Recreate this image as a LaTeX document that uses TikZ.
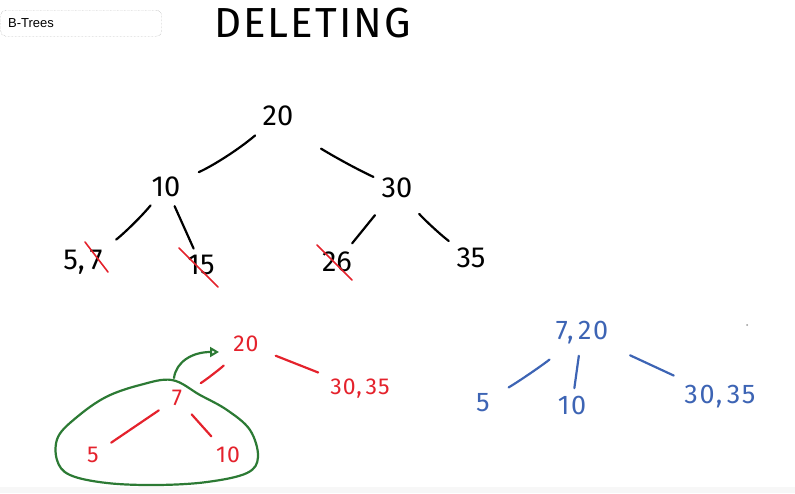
\documentclass[tikz,border=0pt]{standalone}
\usepackage{fontspec}
\setmainfont{Fira Sans}
\newfontfamily\uifont{Liberation Sans}
\usetikzlibrary{arrows.meta}
\definecolor{inkred}{HTML}{E4222C}
\definecolor{inkgreen}{HTML}{2C7A34}
\definecolor{inkblue}{HTML}{3D64B4}
\tikzset{
  hand/.style={line width=2.2pt, line cap=round, line join=round},
  numtop/.style={inner sep=0pt, font=\fontsize{29}{29}\selectfont},
  numred/.style={inner sep=0pt, text=inkred, font=\fontsize{23}{23}\selectfont\addfontfeatures{LetterSpace=4}},
  numblue/.style={inner sep=0pt, text=inkblue, font=\fontsize{27}{27}\selectfont\addfontfeatures{LetterSpace=6}},
  blackedge/.style={hand, black},
  rededge/.style={hand, inkred},
  blueedge/.style={hand, inkblue},
  strike/.style={line width=1.6pt, inkred, line cap=round},
}
\begin{document}
\begin{tikzpicture}[x=1pt,y=-1pt]
\useasboundingbox (0,0) rectangle (795,493);
\fill[black!3] (0,487) rectangle (795,493);
% tab label
\node[draw=black!40, densely dotted, rounded corners=5pt, minimum width=161pt, minimum height=26pt,
      anchor=north west, inner sep=0pt] (tab) at (0.5,10) {};
\node[anchor=west, inner sep=0pt, font=\uifont\fontsize{13}{13}\selectfont] (tabtext) at (8,23.5) {B-Trees};
% title
\node[inner sep=0pt, anchor=west, font=\fontsize{42}{42}\selectfont\addfontfeatures{LetterSpace=5}] (title) at (214,23) {DELETING};

% top tree
\node[numtop] (t20) at (278,116) {20};
\node[numtop] (t10) at (166,187) {10};
\node[numtop] (t30) at (397,188) {30};
\node[numtop] (t57) at (83,262) {5,\,7};
\node[numtop] (t15) at (201,265) {15};
\node[numtop] (t26) at (337,262) {26};
\node[numtop] (t35) at (471,258) {35};
\draw[blackedge, shorten <=30pt, shorten >=36pt] (t20.center) to[bend left=8] (t10.center);
\draw[blackedge, shorten <=54pt, shorten >=26pt] (t20.center) to[bend right=6] (t30.center);
\draw[blackedge, shorten <=24pt, shorten >=40pt] (t10.center) to[bend left=8] (t57.center);
\draw[blackedge, shorten <=21pt, shorten >=18pt] (t10.center) -- (t15.center);
\draw[blackedge, shorten <=35pt, shorten >=24pt] (t30.center) -- (t26.center);
\draw[blackedge, shorten <=34pt, shorten >=28pt] (t30.center) to[bend right=6] (t35.center);
% red strikes
\draw[strike] (85,242) -- (108,272);
\draw[strike] (179,248) -- (218,287);
\draw[strike] (317,245) -- (352,280);

% red tree
\node[numred] (r20) at (246,344) {20};
\node[numred] (r3035) at (360,389) {30,\,35};
\node[numred] (r7) at (177,398) {7};
\node[numred] (r5) at (93,455) {5};
\node[numred] (r10) at (228,455) {10};
\draw[rededge, shorten <=31pt, shorten >=28pt] (r20.center) to[bend left=6] (r7.center);
\draw[rededge, shorten <=32pt, shorten >=45pt] (r20.center) -- (r3035.center);
\draw[rededge, shorten <=22pt, shorten >=22pt] (r7.center) -- (r5.center);
\draw[rededge, shorten <=22pt, shorten >=25pt] (r7.center) -- (r10.center);

% green loop and arrow
\draw[hand, inkgreen] plot[smooth cycle, tension=0.6] coordinates {
  (172,380) (140,385) (106,397) (77,417) (58,437) (57,460) (70,475)
  (107,483) (157,485) (207,482) (247,473) (258,457) (250,430) (227,410) (200,395)};
\coordinate (looptop) at (174,378);
\coordinate (tipend) at (219,352);
\draw[hand, inkgreen, -{Triangle[open, length=9pt, width=10pt, line width=2pt]}]
  (looptop) .. controls (176,362) and (192,352) .. (tipend);

% blue tree
\node[numblue] (b720) at (582,333) {7,\,20};
\node[numblue] (b5) at (483,403) {5};
\node[numblue] (b10) at (572,405) {10};
\node[numblue] (b3035) at (720,397) {30,\,35};
\draw[blueedge, shorten <=42pt, shorten >=30pt] (b720.center) to[bend left=4] (b5.center);
\draw[blueedge, shorten <=23pt, shorten >=17pt] (b720.center) -- (b10.center);
\draw[blueedge, shorten <=53pt, shorten >=51pt] (b720.center) -- (b3035.center);
\fill[black!40] (747,325) circle (1pt);
\end{tikzpicture}
\end{document}
